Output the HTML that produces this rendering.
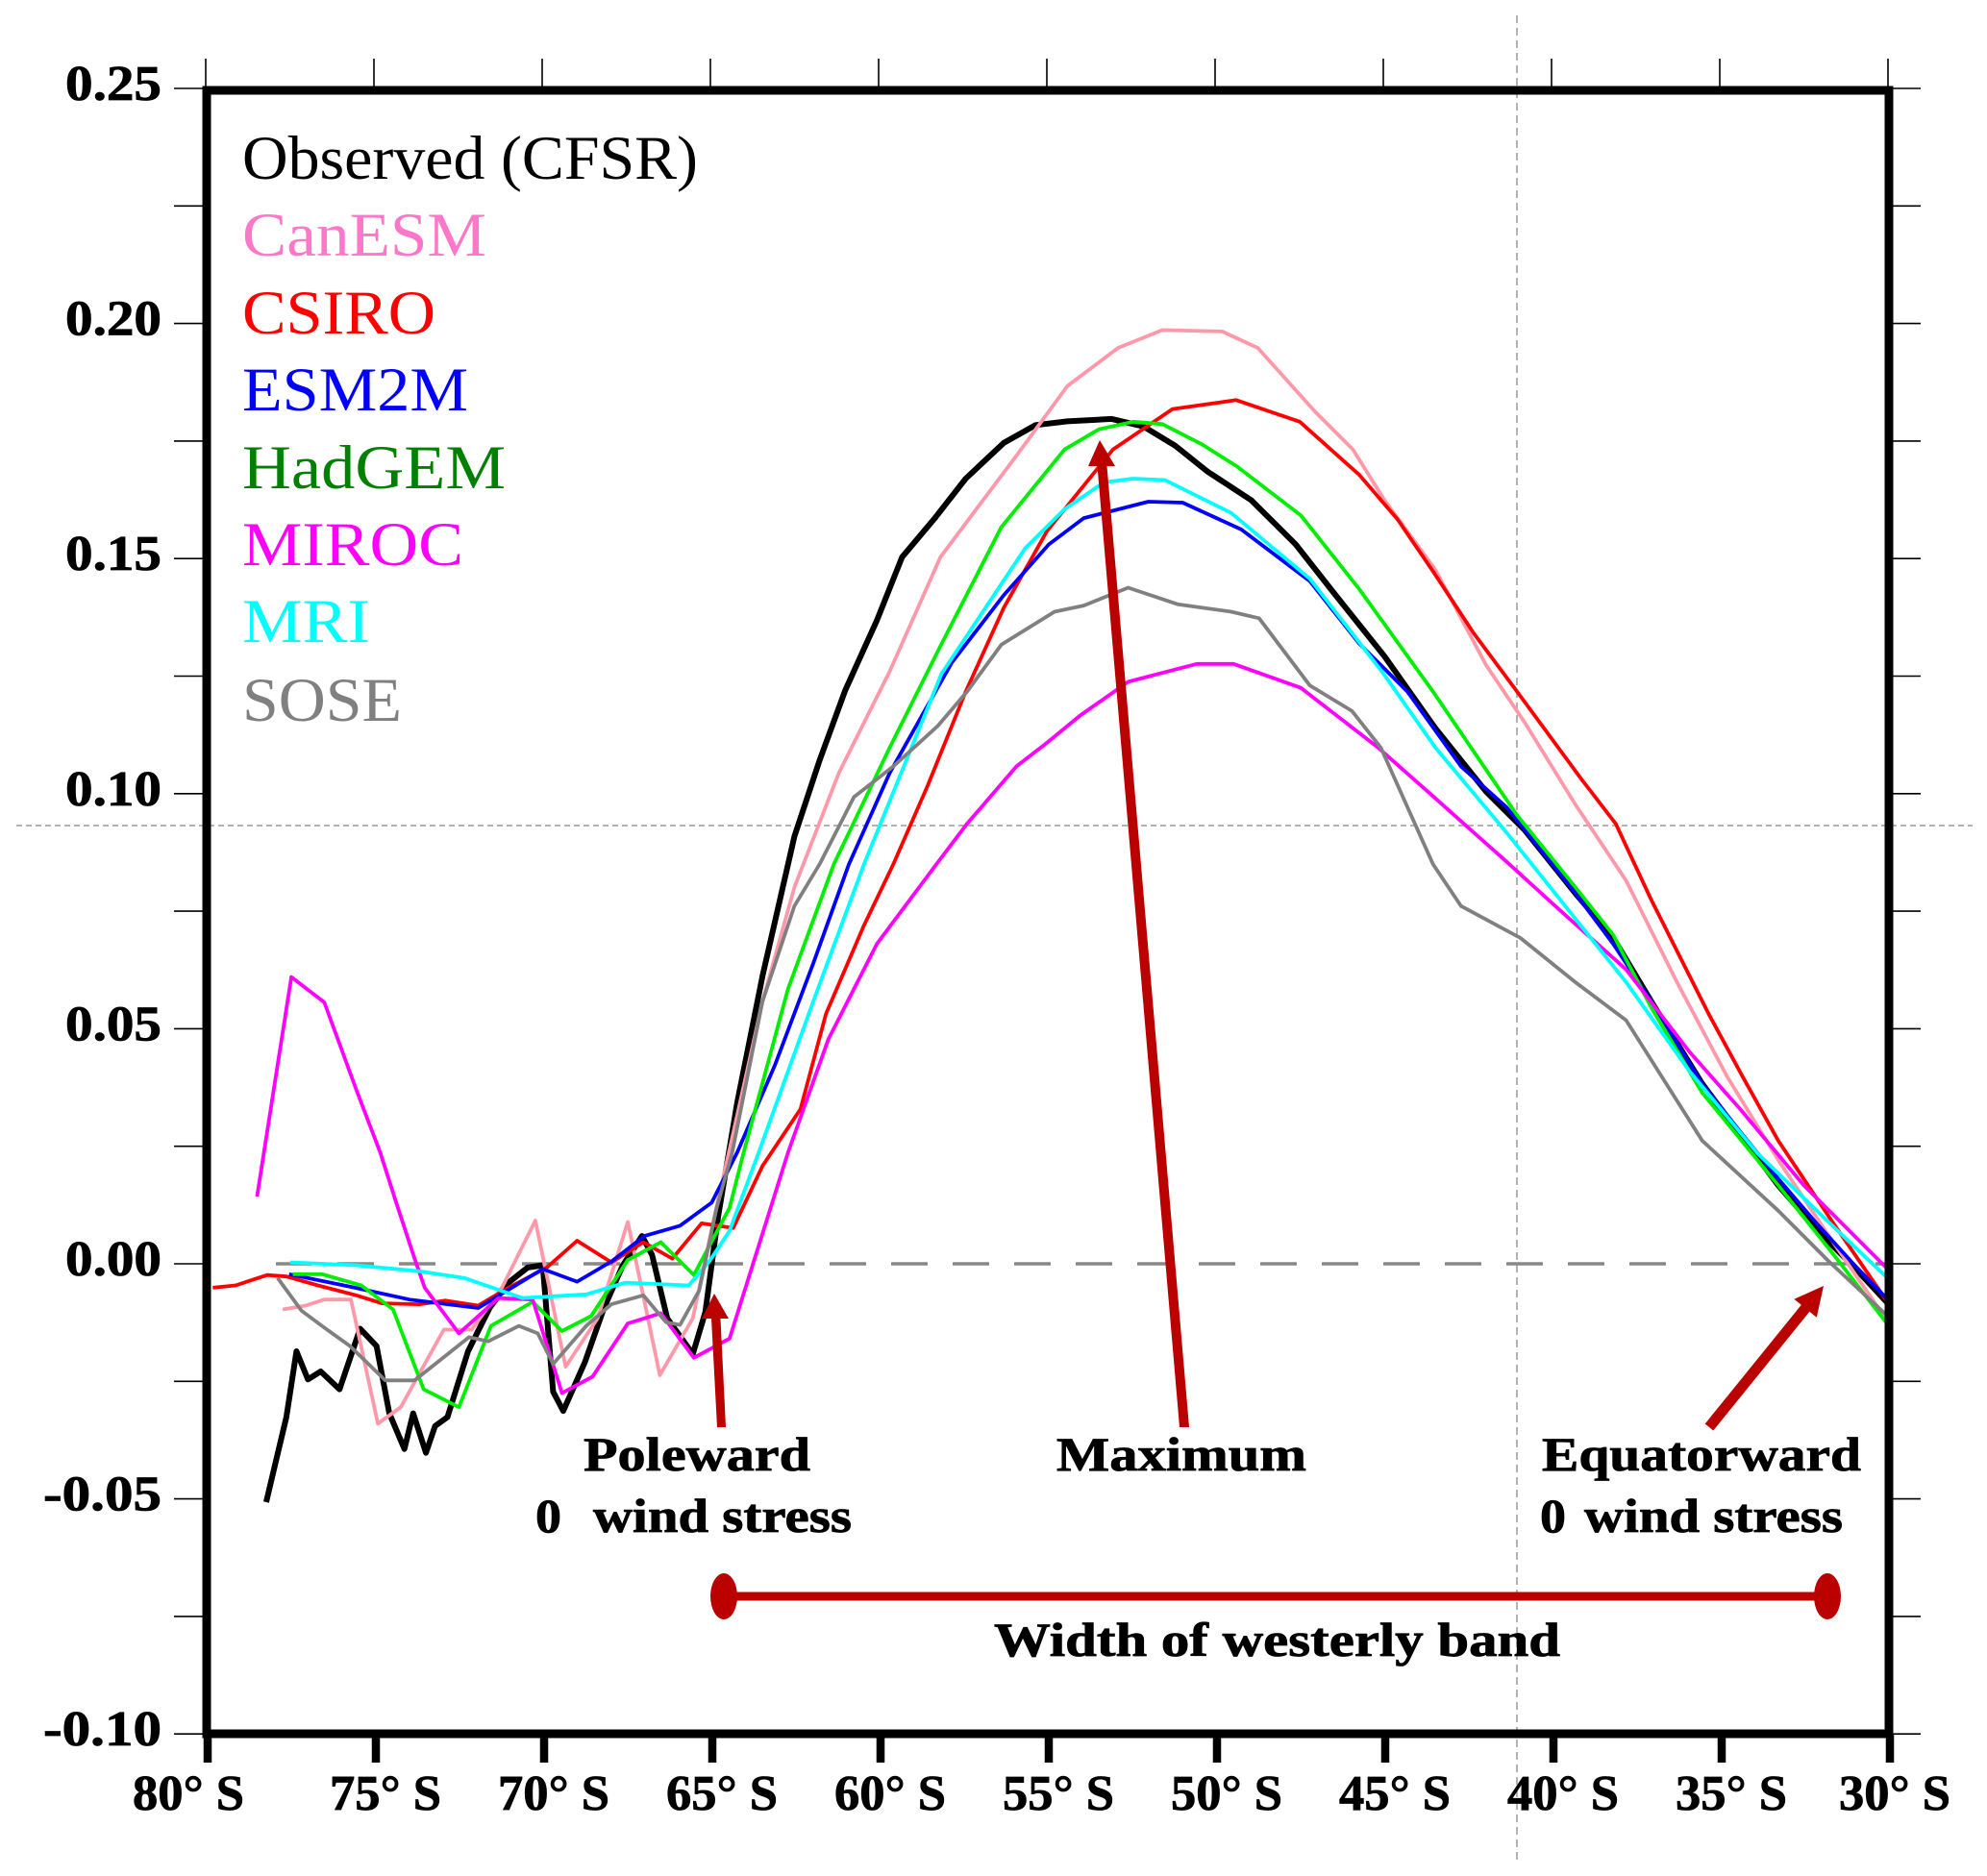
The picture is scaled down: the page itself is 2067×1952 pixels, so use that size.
<!DOCTYPE html>
<html lang="en">
<head>
<meta charset="utf-8">
<title>Zonal wind stress by latitude</title>
<style>
html,body{margin:0;padding:0;background:#fff}
svg{display:block}
text{font-family:"Liberation Serif",serif}
.tick{font-weight:bold;font-size:52px;fill:#000;stroke:#000;stroke-width:.8px}
.note{font-weight:bold;font-size:50px;fill:#000;stroke:#000;stroke-width:.8px}
.legend{font-size:65px}
</style>
</head>
<body>
<svg id="chart" xmlns="http://www.w3.org/2000/svg" width="2067" height="1952" viewBox="0 0 2067 1952">
  <rect width="2067" height="1952" fill="#fff"/>
  <g id="guides"></g>
  <g id="ticks"></g>
  <g id="series"></g>
  <g id="frame"></g>
  <g id="labels"></g>
  <g>
    <text class="legend" x="252" y="186" fill="#000" textLength="474" lengthAdjust="spacingAndGlyphs">Observed (CFSR)</text>
    <text class="legend" x="252" y="266" fill="#ff77c8" textLength="254" lengthAdjust="spacingAndGlyphs">CanESM</text>
    <text class="legend" x="252" y="347" fill="#ff0000" textLength="201" lengthAdjust="spacingAndGlyphs">CSIRO</text>
    <text class="legend" x="252" y="427" fill="#0000ff" textLength="235" lengthAdjust="spacingAndGlyphs">ESM2M</text>
    <text class="legend" x="252" y="508" fill="#008000" textLength="274" lengthAdjust="spacingAndGlyphs">HadGEM</text>
    <text class="legend" x="252" y="588" fill="#ff00ff" textLength="230" lengthAdjust="spacingAndGlyphs">MIROC</text>
    <text class="legend" x="252" y="668" fill="#00ffff" textLength="133" lengthAdjust="spacingAndGlyphs">MRI</text>
    <text class="legend" x="252" y="750" fill="#808080" textLength="166" lengthAdjust="spacingAndGlyphs">SOSE</text>
  </g>
  <g fill="#bb0000" stroke="none">
    <polygon points="746,1485 755,1485 749.5,1372 758,1372 743,1346 730,1372 740,1372"/>
    <polygon points="1227,1485 1237,1485 1151.5,485 1160,485 1144,458 1132,485 1141.5,485"/>
    <polygon points="1782.3,1488.5 1773.7,1481.5 1873.8,1357.8 1866.4,1351.8 1897,1338 1889.8,1370.8 1882.4,1364.8"/>
    <rect x="753" y="1656.5" width="1148" height="9"/>
    <ellipse cx="753" cy="1661" rx="14" ry="24"/>
    <ellipse cx="1901" cy="1661" rx="14" ry="24"/>
  </g>
  <g>
    <text class="note" x="607" y="1530" textLength="236" lengthAdjust="spacingAndGlyphs">Poleward</text>
    <text class="note" x="557" y="1594" textLength="27" lengthAdjust="spacingAndGlyphs">0</text>
    <text class="note" x="617" y="1594" textLength="269" lengthAdjust="spacingAndGlyphs">wind stress</text>
    <text class="note" x="1099" y="1530" textLength="260" lengthAdjust="spacingAndGlyphs">Maximum</text>
    <text class="note" x="1604" y="1530" textLength="332" lengthAdjust="spacingAndGlyphs">Equatorward</text>
    <text class="note" x="1602" y="1594" textLength="27" lengthAdjust="spacingAndGlyphs">0</text>
    <text class="note" x="1648" y="1594" textLength="269" lengthAdjust="spacingAndGlyphs">wind stress</text>
    <text class="note" x="1034" y="1723" textLength="589" lengthAdjust="spacingAndGlyphs">Width of westerly band</text>
  </g>
</svg>
<script>
const yLabels = ["0.25","0.20","0.15","0.10","0.05","0.00","-0.05","-0.10"];
const yLabelValues = [0.25,0.20,0.15,0.10,0.05,0,-0.05,-0.10];
const yMinorTicks = [0.225,0.175,0.125,0.075,0.025,-0.025,-0.075];
const xLabels = ["80° S","75° S","70° S","65° S","60° S","55° S","50° S","45° S","40° S","35° S","30° S"];
const xLabelLats = [80,75,70,65,60,55,50,45,40,35,30];

const observedLat = [78.26,77.66,77.36,77.02,76.64,76.08,75.47,74.98,74.60,74.15,73.89,73.51,73.24,72.87,72.26,71.62,71.06,70.49,70.04,69.73,69.43,68.79,68.22,67.66,67.09,66.79,66.34,65.58,65.21,64.83,64.26,63.51,62.56,61.81,61.05,60.11,59.36,58.41,57.47,56.34,55.39,54.45,53.13,52.19,51.24,50.30,48.98,47.66,46.53,45.02,43.51,42.0,40.86,39.35,38.22,37.09,35.58,34.45,33.32,32.18,31.05,30.0];
const observedVal = [-0.0507,-0.0326,-0.0186,-0.0246,-0.0229,-0.0267,-0.0138,-0.0175,-0.0318,-0.0394,-0.0318,-0.0402,-0.0345,-0.0326,-0.0186,-0.0094,-0.0040,-0.0008,-0.0003,-0.0272,-0.0313,-0.0210,-0.0094,-0.0003,0.0059,0.0019,-0.0116,-0.0192,-0.0103,0.0100,0.0343,0.0612,0.0909,0.1071,0.1220,0.1368,0.1503,0.1584,0.1670,0.1746,0.1784,0.1792,0.1797,0.1781,0.1740,0.1686,0.1624,0.1530,0.1427,0.1292,0.1139,0.1004,0.0923,0.0788,0.0693,0.0558,0.0383,0.0275,0.0167,0.0073,-0.0008,-0.0089];

const canesmLat = [77.77,77.09,76.53,75.74,74.94,74.26,72.98,72.15,71.24,70.26,69.36,68.41,67.51,66.56,65.58,64.94,64.26,63.51,62.56,61.24,59.73,58.22,57.09,55.96,54.45,52.94,51.62,49.85,48.79,47.09,45.96,45.02,43.51,42.0,40.86,39.35,37.84,36.33,34.83,33.32,31.81,30.0];
const canesmVal = [-0.0097,-0.0089,-0.0076,-0.0076,-0.0340,-0.0305,-0.0140,-0.0140,-0.0049,0.0092,-0.0219,-0.0116,0.0089,-0.0237,-0.0116,0.0100,0.0316,0.0558,0.0801,0.1044,0.1260,0.1503,0.1611,0.1719,0.1867,0.1948,0.1986,0.1983,0.1948,0.1813,0.1732,0.1624,0.1476,0.1273,0.1152,0.0977,0.0815,0.0599,0.0397,0.0221,0.0059,-0.0130];

const csiroLat = [79.85,79.17,78.23,77.66,76.72,75.58,74.83,73.70,72.94,71.96,71.06,69.92,69.02,68.0,67.05,66.19,65.32,64.38,63.51,62.38,61.62,60.49,59.62,58.60,57.47,56.34,55.05,53.09,51.32,49.43,47.54,45.77,44.64,43.58,42.37,41.13,39.17,38.15,37.09,35.39,34.37,33.32,31.81,30.0];
const csiroVal = [-0.0051,-0.0046,-0.0024,-0.0027,-0.0046,-0.0067,-0.0084,-0.0086,-0.0078,-0.0089,-0.0051,-0.0008,0.0049,0.0003,0.0046,0.0011,0.0086,0.0076,0.0208,0.0329,0.0532,0.0720,0.0850,0.1017,0.1217,0.1395,0.1559,0.1732,0.1818,0.1837,0.1791,0.1678,0.1584,0.1473,0.1341,0.1222,0.1031,0.0936,0.0774,0.0532,0.0397,0.0262,0.0100,-0.0089];

const esm2mLat = [77.58,75.74,74.0,71.96,70.04,69.02,68.0,67.02,65.96,65.02,64.26,63.13,62.0,60.94,59.73,57.88,56.34,55.0,53.96,52.04,51.02,49.28,47.24,45.77,44.34,42.75,41.39,39.35,38.22,37.09,35.58,34.45,33.32,32.18,31.05,30.0];
const esm2mVal = [-0.0022,-0.0049,-0.0076,-0.0094,-0.0011,-0.0038,0.0005,0.0059,0.0081,0.0130,0.0237,0.0424,0.0639,0.0850,0.1044,0.1279,0.1422,0.1530,0.1586,0.1621,0.1619,0.1562,0.1452,0.1319,0.1217,0.1058,0.0971,0.0788,0.0680,0.0558,0.0383,0.0281,0.0181,0.0086,-0.0003,-0.0081];

const hadgemLat = [77.47,76.60,75.43,74.49,73.58,72.53,71.58,70.34,69.47,68.60,67.51,66.53,65.55,64.49,64.07,62.75,61.39,59.73,58.22,56.41,54.53,53.51,52.49,51.62,50.45,49.43,47.51,45.77,43.58,41.09,39.35,38.22,37.09,35.58,33.32,31.81,30.0];
const hadgemVal = [-0.0022,-0.0022,-0.0046,-0.0097,-0.0267,-0.0305,-0.0132,-0.0081,-0.0143,-0.0111,0.0008,0.0046,-0.0024,0.0119,0.0237,0.0585,0.0850,0.1098,0.1314,0.1567,0.1732,0.1775,0.1791,0.1786,0.1743,0.1697,0.1592,0.1435,0.1217,0.0955,0.0801,0.0699,0.0545,0.0364,0.0167,0.0032,-0.0135];

const mirocLat = [78.53,77.51,76.53,75.58,74.87,74.38,73.85,73.55,72.53,71.36,70.34,69.47,68.56,67.51,66.53,65.55,64.49,62.75,61.55,60.11,58.34,57.43,55.96,55.09,54.07,52.64,50.60,49.51,47.51,45.21,43.51,41.39,39.73,37.84,35.96,34.45,32.56,31.05,30.0];
const mirocVal = [0.0143,0.0610,0.0556,0.0370,0.0237,0.0127,0.0011,-0.0051,-0.0148,-0.0073,-0.0076,-0.0275,-0.0240,-0.0127,-0.0105,-0.0200,-0.0159,0.0237,0.0478,0.0680,0.0850,0.0936,0.1058,0.1106,0.1166,0.1238,0.1276,0.1276,0.1225,0.1098,0.0990,0.0855,0.0747,0.0626,0.0451,0.0329,0.0167,0.0059,-0.0016];

const mriLat = [77.55,75.58,73.70,72.38,70.64,68.75,67.58,65.70,65.09,64.49,63.62,62.0,60.49,58.19,55.70,54.53,53.36,52.49,51.55,49.58,47.24,45.05,43.51,41.39,39.35,37.84,35.96,33.96,31.55,30.0];
const mriVal = [0.0003,-0.0003,-0.0016,-0.0030,-0.0073,-0.0065,-0.0040,-0.0046,0.0005,0.0070,0.0237,0.0558,0.0850,0.1255,0.1522,0.1605,0.1662,0.1670,0.1667,0.1597,0.1457,0.1255,0.1098,0.0917,0.0734,0.0599,0.0410,0.0237,0.0070,-0.0035];

const soseLat = [77.92,77.21,76.45,75.77,74.72,73.85,73.09,72.23,71.66,70.75,70.19,69.73,68.75,68.0,67.05,66.38,65.96,65.39,64.87,64.41,63.51,62.56,61.81,60.79,59.62,58.30,57.43,56.41,54.83,53.96,52.64,51.17,49.58,48.75,47.24,45.99,45.13,43.58,42.75,40.98,39.35,37.84,35.58,33.32,31.81,30.0];
const soseVal = [-0.0030,-0.0100,-0.0140,-0.0175,-0.0248,-0.0248,-0.0205,-0.0156,-0.0165,-0.0132,-0.0148,-0.0213,-0.0132,-0.0086,-0.0067,-0.0124,-0.0130,-0.0057,0.0119,0.0237,0.0558,0.0761,0.0850,0.0993,0.1058,0.1144,0.1217,0.1317,0.1387,0.1400,0.1438,0.1403,0.1387,0.1373,0.1230,0.1176,0.1098,0.0850,0.0761,0.0693,0.0599,0.0518,0.0262,0.0113,0.0005,-0.0116];

const NS = "http://www.w3.org/2000/svg";
const LEFT = 216, DEG = 35, ZERO = 1315, UNIT = 4892;
const TOP = 94, BOTTOM = 1804, RIGHT = 1965;
function xScale(lat){ return LEFT + (80 - lat) * DEG; }
function yScale(v){ return ZERO - v * UNIT; }
function make(tag, parent, attrs){
  const el = document.createElementNS(NS, tag);
  for (const k in attrs) el.setAttribute(k, attrs[k]);
  parent.appendChild(el);
  return el;
}
const guides = document.getElementById('guides');
const ticks = document.getElementById('ticks');
const seriesGroup = document.getElementById('series');
const frame = document.getElementById('frame');
const labels = document.getElementById('labels');

/* thin crosshair guides */
const vGuide = make('line', guides, {x1:1578,x2:1578,y1:16,y2:1935,stroke:'#9a9a9a','stroke-width':1.5,'stroke-dasharray':'8 5'});


const hGuide = make('line', guides, {x1:17,x2:2052,y1:859,y2:859,stroke:'#9a9a9a','stroke-width':1.5,'stroke-dasharray':'6 4'});



/* zero line */
const zeroLine = make('line', guides, {x1:287,x2:RIGHT,y1:yScale(0),y2:yScale(0),stroke:'#888','stroke-width':3.5,'stroke-dasharray':'38 26'});



/* y ticks, both sides, outside the frame only */
yLabelValues.concat(yMinorTicks).forEach(function(v){
  const y = yScale(v);
  const left = make('line', ticks, {x1:181,x2:212,y1:y,y2:y,stroke:'#000','stroke-width':1.6});
  
  
  const right = make('line', ticks, {x1:RIGHT,x2:RIGHT+33,y1:y,y2:y,stroke:'#000','stroke-width':1.6});
  
  
});

/* x ticks */
xLabelLats.forEach(function(lat){
  const x = xScale(lat);
  const top = make('line', ticks, {x1:x-2,x2:x-2,y1:61,y2:TOP,stroke:'#000','stroke-width':1.6});
  
  
  const bottom = make('line', ticks, {x1:x,x2:x,y1:BOTTOM,y2:1834,stroke:'#000','stroke-width':8.5});
  
  
});

/* series */
function drawSeries(name, lats, vals, color, width){
  const pts = lats.map(function(lat, i){ return xScale(lat).toFixed(1) + ',' + yScale(vals[i]).toFixed(1); }).join(' ');
  const line = make('polyline', seriesGroup, {points:pts,fill:'none',stroke:color,'stroke-width':width,'stroke-linejoin':'round'});
  
  
}
drawSeries('series-observed-cfsr', observedLat, observedVal, '#000000', 6);
drawSeries('series-canesm', canesmLat, canesmVal, '#ff99aa', 3.8);
drawSeries('series-csiro', csiroLat, csiroVal, '#ff0000', 3.8);
drawSeries('series-esm2m', esm2mLat, esm2mVal, '#0000ff', 3.8);
drawSeries('series-hadgem', hadgemLat, hadgemVal, '#00ee00', 3.8);
drawSeries('series-miroc', mirocLat, mirocVal, '#ff00ff', 3.8);
drawSeries('series-mri', mriLat, mriVal, '#00ffff', 3.8);
drawSeries('series-sose', soseLat, soseVal, '#808080', 3.8);

/* frame */
const box = make('rect', frame, {x:215,y:TOP,width:RIGHT-215,height:BOTTOM-TOP,fill:'none',stroke:'#000','stroke-width':9});



/* tick labels */
yLabels.forEach(function(txt, i){
  const t = make('text', labels, {class:'tick',x:168,y:yScale(yLabelValues[i])+12,'text-anchor':'end'});
  t.textContent = txt;
  t.setAttribute('textLength', txt.length === 5 ? 123 : 100);
  t.setAttribute('lengthAdjust', 'spacingAndGlyphs');
  
  
});
xLabels.forEach(function(txt, i){
  const lat = xLabelLats[i];
  const nudge = lat === 80 ? -20 : (lat === 30 ? 5 : 10);
  const t = make('text', labels, {class:'tick',x:xScale(lat)+nudge,y:1883,'text-anchor':'middle'});
  t.textContent = txt;
  t.setAttribute('textLength', 116);
  t.setAttribute('lengthAdjust', 'spacingAndGlyphs');
  
  
});
</script>
</body>
</html>
